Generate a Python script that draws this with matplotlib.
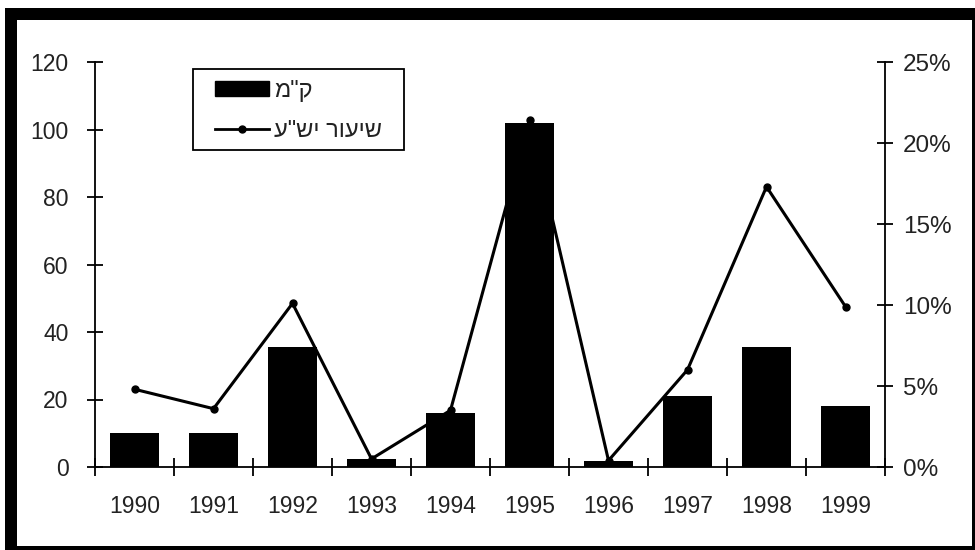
import matplotlib.pyplot as plt
from matplotlib.patches import Rectangle
from matplotlib.lines import Line2D
from matplotlib.ticker import FuncFormatter

# --- Data ---
years = ['1990', '1991', '1992', '1993', '1994', '1995', '1996', '1997', '1998', '1999']
km = [10, 10, 35.5, 2.5, 16, 102, 1.8, 21, 35.5, 18]
rate = [0.048, 0.036, 0.101, 0.005, 0.035, 0.214, 0.004, 0.060, 0.173, 0.099]

label_km = 'ק"מ'
label_rate = 'שיעור יש"ע'

# matplotlib draws text left to right, so reverse the Hebrew labels
def rtl(s):
    return s[::-1]

plt.rcParams['font.family'] = ['Liberation Sans', 'DejaVu Sans']
txt_color = '#222222'

W, H = 975, 550
fig = plt.figure(figsize=(W / 100, H / 100), dpi=100)

def px_box(x0, y0, w, h):
    # pixel box (from top-left) -> figure fraction rect
    return [x0 / W, 1 - (y0 + h) / H, w / W, h / H]

# --- Axes placed in pixel coordinates ---
left, right, top, bottom = 95, 885, 62, 467
ax = fig.add_axes(px_box(left, top, right - left, bottom - top))
ax2 = ax.twinx()

x = list(range(len(years)))
ax.bar(x, km, width=0.61, color='black', zorder=2)
ax2.plot(x, rate, color='black', lw=2.2, marker='o', markersize=5, zorder=3)

ax.set_xlim(-0.5, len(years) - 0.5)
ax.set_ylim(0, 120)
ax2.set_ylim(0, 0.25)

ax.set_yticks(range(0, 121, 20))
ax2.set_yticks([0, 0.05, 0.10, 0.15, 0.20, 0.25])
ax2.yaxis.set_major_formatter(FuncFormatter(lambda v, p: f'{round(v * 100)}%'))

# category boundaries as major ticks, labels at centres as minor ticks
ax.set_xticks([i - 0.5 for i in range(len(years) + 1)])
ax.set_xticklabels([])
ax.set_xticks(x, minor=True)
ax.set_xticklabels(years, minor=True)

fs = 16.5
ax.tick_params(axis='x', which='major', direction='inout', length=13, width=1.3)
ax.tick_params(axis='x', which='minor', length=0, pad=20, labelsize=16.5,
               labelcolor=txt_color)
ax.tick_params(axis='y', direction='inout', length=12, width=1.3, labelsize=fs,
               pad=13, labelcolor=txt_color)
ax2.tick_params(axis='y', direction='inout', length=12, width=1.3, labelsize=17.5,
                pad=7, labelcolor=txt_color)

for a in (ax, ax2):
    a.spines['top'].set_visible(False)
    for s in ('left', 'right', 'bottom'):
        a.spines[s].set_linewidth(1.3)
ax.spines['right'].set_visible(False)
ax2.spines['left'].set_visible(False)
ax2.spines['bottom'].set_visible(False)

# --- Legend (frame drawn separately) ---
handles = [
    Rectangle((0, 0), 1, 1, facecolor='black', edgecolor='black'),
    Line2D([], [], color='black', lw=2, marker='o', markersize=5),
]
leg = fig.legend(handles, [rtl(label_km), rtl(label_rate)],
                 loc='upper left', bbox_to_anchor=(215 / W, 1 - 80 / H),
                 fontsize=17, frameon=False,
                 handlelength=2.3, handleheight=0.6, handletextpad=0.2,
                 labelspacing=0.75, borderpad=0, borderaxespad=0,
                 labelcolor=txt_color)
fig.patches.append(Rectangle(px_box(193, 69, 211, 81)[:2], 211 / W, 81 / H,
                             transform=fig.transFigure, facecolor='none',
                             edgecolor='black', lw=1.3))

# --- Thick black frame (cropped) ---
frame = [(5, 8, 12, 542), (5, 8, 970, 12), (972, 8, 3, 542), (5, 546, 970, 4)]
for fx, fy, fw, fh in frame:
    r = px_box(fx, fy, fw, fh)
    fig.patches.append(Rectangle(r[:2], r[2], r[3], transform=fig.transFigure,
                                 facecolor='black', edgecolor='none'))

fig.savefig('out.png', dpi=100)
